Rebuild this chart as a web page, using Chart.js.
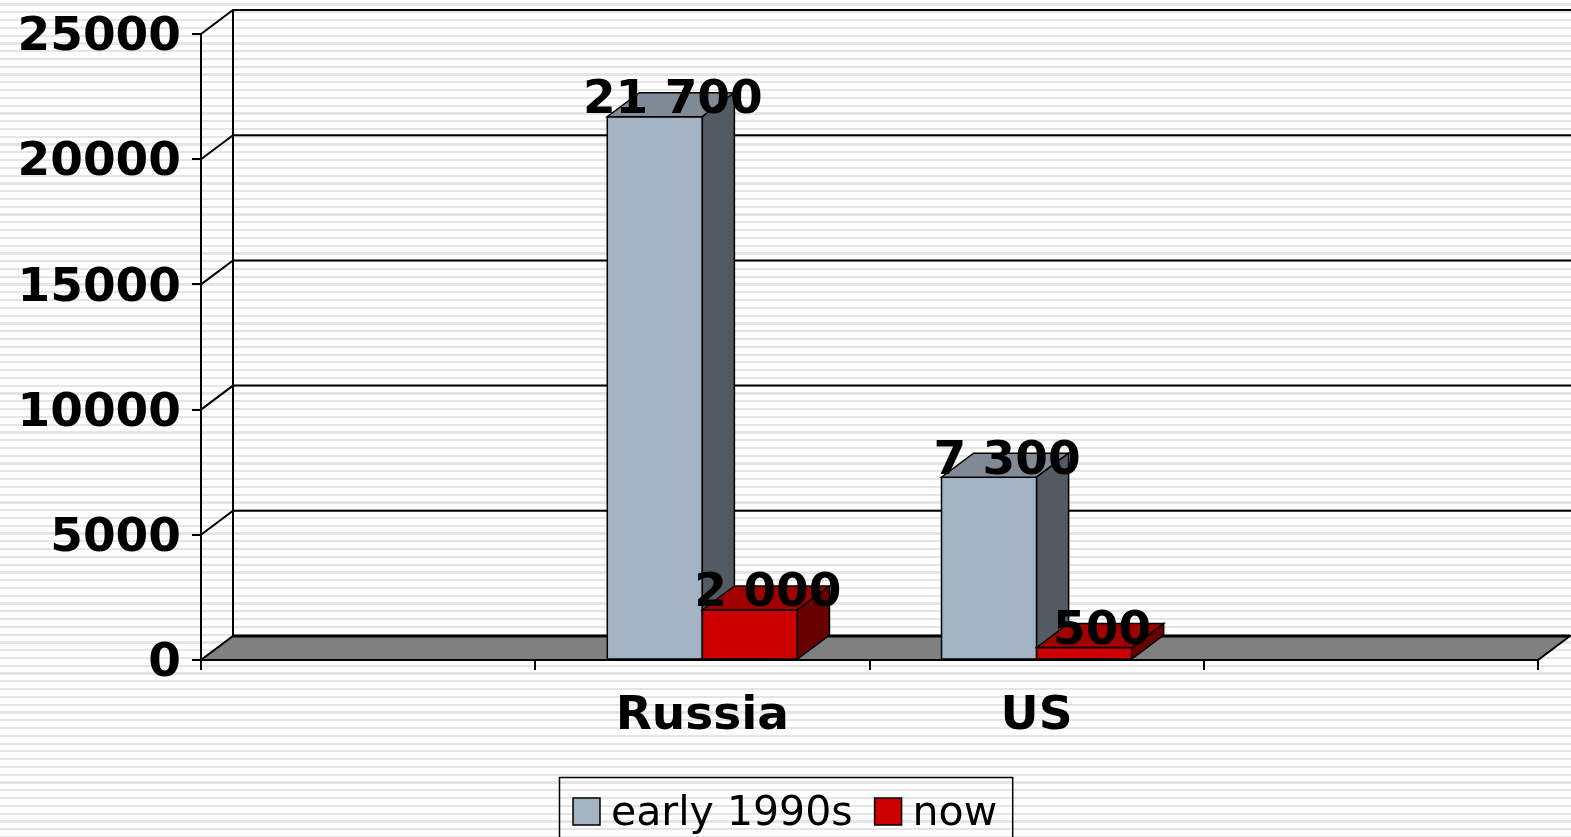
<!DOCTYPE html>
<html>
<head>
<meta charset="utf-8">
<script src="https://cdn.jsdelivr.net/npm/chart.js@4.4.1/dist/chart.umd.min.js"></script>
<style>
  html, body { margin: 0; padding: 0; }
  body {
    width: 1571px; height: 837px; overflow: hidden;
    background: repeating-linear-gradient(to bottom,
      #ffffff 0px, #ffffff 3.4px, #e5e5e5 3.4px, #e5e5e5 5.6px, #ffffff 5.6px, #ffffff 7.78px);
  }
  #wrap { position: absolute; left: 0; top: 0; width: 1571px; height: 837px; }
</style>
</head>
<body>
<div id="wrap"><canvas id="chart" width="1571" height="837"></canvas></div>
<script>
'use strict';

// ── Data ──────────────────────────────────────────────────────
const categories = ['', 'Russia', 'US', ''];
const early1990s = [null, 21700, 7300, null];
const nowValues  = [null, 2000, 500, null];
const yTicks     = [0, 5000, 10000, 15000, 20000, 25000];

// ── Look ──────────────────────────────────────────────────────
const DX = 32, DY = 24;               // 3D depth offset
const LW = 2;
const FONT = '"DejaVu Sans", Verdana, sans-serif';
const FRONT = ['#A3B3C3', '#CC0000'];
const TOP   = ['#7F8A96', '#A00000'];
const SIDE  = ['#525A62', '#680000'];

const fmt = v => String(v).replace(/\B(?=(\d{3})+(?!\d))/g, ' ');

function poly(ctx, pts, fill, lw) {
  ctx.beginPath();
  ctx.moveTo(pts[0][0], pts[0][1]);
  for (let i = 1; i < pts.length; i++) ctx.lineTo(pts[i][0], pts[i][1]);
  ctx.closePath();
  if (fill) { ctx.fillStyle = fill; ctx.fill(); }
  ctx.lineWidth = lw || 1.5;
  ctx.strokeStyle = '#000';
  ctx.stroke();
}

// walls, back gridlines, floor, 3D bars, labels, legend
const wallsPlugin = {
  id: 'walls',
  beforeDraw(chart) {
    const { ctx, chartArea: a, scales: { y } } = chart;
    const W = chart.width;
    ctx.save();
    ctx.strokeStyle = '#000';
    ctx.lineWidth = LW;
    y.ticks.forEach(t => {
      if (t.value === 0) return;
      const py = y.getPixelForValue(t.value);
      ctx.beginPath();
      ctx.moveTo(a.left, py);
      ctx.lineTo(a.left + DX, py - DY);
      ctx.lineTo(W, py - DY);
      ctx.stroke();
    });
    // back wall left edge
    ctx.beginPath();
    ctx.moveTo(a.left + DX, y.getPixelForValue(y.max) - DY);
    ctx.lineTo(a.left + DX, a.bottom - DY);
    ctx.stroke();
    // floor
    poly(ctx, [[a.left, a.bottom], [a.right, a.bottom], [a.right + DX, a.bottom - DY], [a.left + DX, a.bottom - DY]], '#808080', LW);
    ctx.lineWidth = 3;
    ctx.beginPath();
    ctx.moveTo(a.left + DX, a.bottom - DY);
    ctx.lineTo(a.right + DX, a.bottom - DY);
    ctx.stroke();
    ctx.restore();
  },
  afterDatasetsDraw(chart) {
    const { ctx } = chart;
    ctx.save();
    chart.data.datasets.forEach((ds, i) => {
      chart.getDatasetMeta(i).data.forEach((bar, j) => {
        if (ds.data[j] == null) return;
        const { x, y, base, width } = bar.getProps(['x', 'y', 'base', 'width'], true);
        const l = x - width / 2, r = x + width / 2;
        poly(ctx, [[l, y], [r, y], [r, base], [l, base]], FRONT[i]);
        poly(ctx, [[l, y], [r, y], [r + DX, y - DY], [l + DX, y - DY]], TOP[i]);
        poly(ctx, [[r, y], [r + DX, y - DY], [r + DX, base - DY], [r, base]], SIDE[i]);
      });
    });
    // value labels
    ctx.fillStyle = '#000';
    ctx.font = 'bold 47px ' + FONT;
    ctx.textAlign = 'center';
    ctx.textBaseline = 'alphabetic';
    chart.data.datasets.forEach((ds, i) => {
      chart.getDatasetMeta(i).data.forEach((bar, j) => {
        if (ds.data[j] == null) return;
        ctx.fillText(fmt(ds.data[j]), bar.x + 18, bar.y - 3.5);
      });
    });
    ctx.restore();
  },
  afterDraw(chart) {
    // legend with a box
    const { ctx } = chart;
    ctx.save();
    ctx.font = '41px ' + FONT;
    const sw = 27, gapT = 11, gapI = 22, padL = 14, padR = 15;
    const items = chart.data.datasets.map((ds, i) => ({ label: ds.label, color: FRONT[i], w: ctx.measureText(ds.label).width }));
    let total = padL + padR;
    items.forEach((it, k) => { total += sw + gapT + it.w + (k < items.length - 1 ? gapI : 0); });
    const left = Math.round(chart.width / 2 - total / 2);
    const top = 777;
    ctx.lineWidth = 1.5;
    ctx.strokeStyle = '#000';
    ctx.strokeRect(left + 0.5, top + 0.5, total, 90);
    let x = left + padL;
    ctx.textBaseline = 'alphabetic';
    ctx.textAlign = 'left';
    items.forEach(it => {
      ctx.fillStyle = it.color;
      ctx.fillRect(x, 798, sw, sw);
      ctx.strokeRect(x, 798, sw, sw);
      ctx.fillStyle = '#000';
      ctx.fillText(it.label, x + sw + gapT, 825);
      x += sw + gapT + it.w + gapI;
    });
    ctx.restore();
  }
};

new Chart(document.getElementById('chart'), {
  type: 'bar',
  data: {
    labels: categories,
    datasets: [
      { label: 'early 1990s', data: early1990s, backgroundColor: FRONT[0], borderColor: '#000', borderWidth: 1.5 },
      { label: 'now',         data: nowValues,  backgroundColor: FRONT[1], borderColor: '#000', borderWidth: 1.5 }
    ]
  },
  options: {
    responsive: false,
    devicePixelRatio: 1,
    animation: false,
    categoryPercentage: 0.569,
    barPercentage: 1,
    layout: { padding: { left: 0, right: 33, top: 34, bottom: 60 } },
    plugins: { legend: { display: false }, tooltip: { enabled: false } },
    scales: {
      x: {
        offset: true,
        grid: { offset: true, drawOnChartArea: false, tickLength: 10, color: '#000', lineWidth: LW },
        border: { color: '#000', width: LW },
        ticks: { color: '#000', font: { family: FONT, size: 47, weight: 'bold' }, padding: 19, maxRotation: 0 },
        afterFit(s) { s.height = 117; }
      },
      y: {
        min: 0, max: 25000,
        afterBuildTicks(s) { s.ticks = yTicks.map(v => ({ value: v })); },
        grid: { drawOnChartArea: false, tickLength: 9, color: '#000', lineWidth: LW },
        border: { color: '#000', width: LW },
        ticks: { color: '#000', font: { family: FONT, size: 47, weight: 'bold' }, padding: 11, labelOffset: 4, callback: v => String(v) },
        afterFit(s) { s.width = 201; s.paddingTop = 0; s.paddingBottom = 0; }
      }
    }
  },
  plugins: [wallsPlugin]
});
</script>
</body>
</html>
